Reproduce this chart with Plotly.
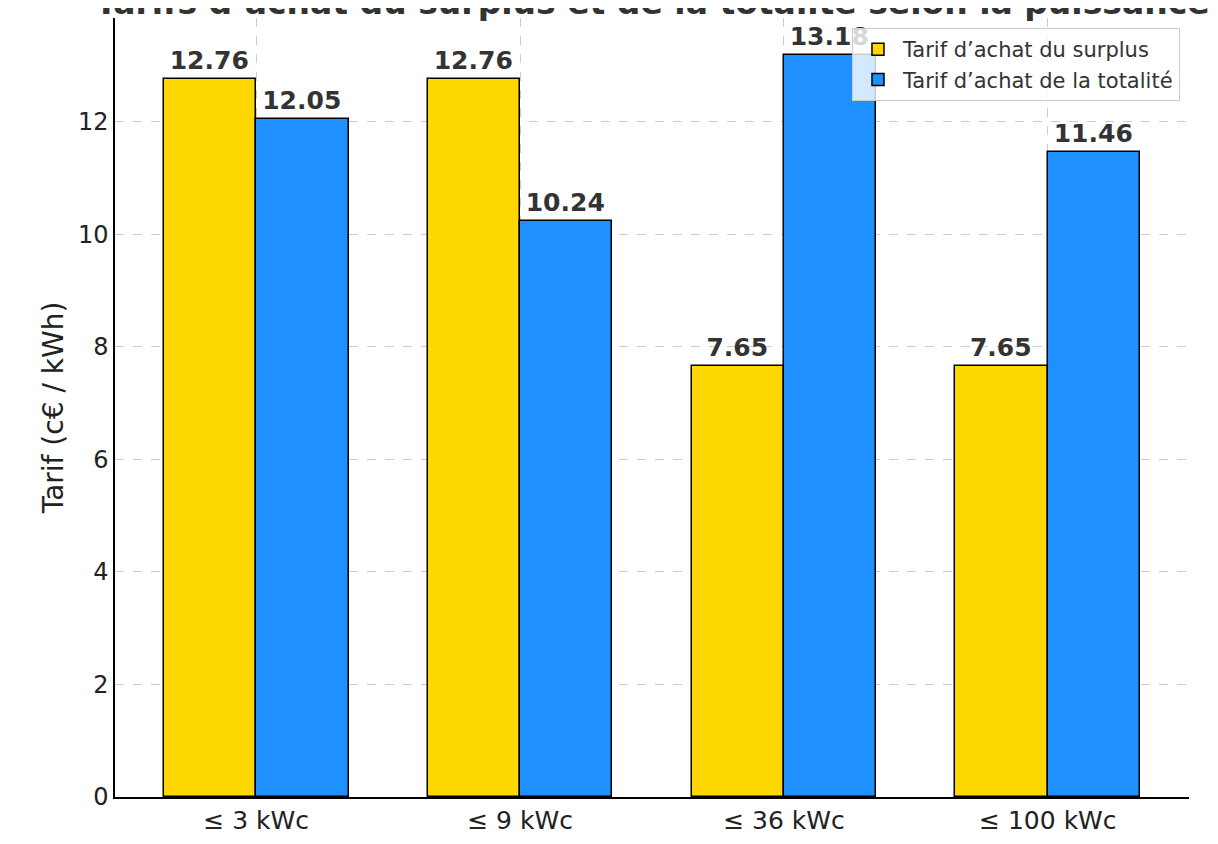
import plotly.graph_objects as go

categories = ["≤ 3 kWc", "≤ 9 kWc", "≤ 36 kWc", "≤ 100 kWc"]
surplus = [12.76, 12.76, 7.65, 7.65]
totalite = [12.05, 10.24, 13.18, 11.46]
bar_width = 0.35

x_pos = list(range(len(categories)))
label_font = dict(family="DejaVu Sans", size=25, color="#333333", weight="bold")

fig = go.Figure()
fig.add_trace(go.Bar(
    x=[p - bar_width / 2 for p in x_pos],
    y=surplus,
    width=bar_width,
    name="Tarif d’achat du surplus",
    marker=dict(color="#FFD700", line=dict(color="black", width=1.5)),
    text=[f"{v:.2f}" for v in surplus],
    textposition="outside",
    constraintext="none",
    cliponaxis=False,
    textfont=label_font,
))
fig.add_trace(go.Bar(
    x=[p + bar_width / 2 for p in x_pos],
    y=totalite,
    width=bar_width,
    name="Tarif d’achat de la totalité",
    marker=dict(color="#1E90FF", line=dict(color="black", width=1.5)),
    text=[f"{v:.2f}" for v in totalite],
    textposition="outside",
    constraintext="none",
    cliponaxis=False,
    textfont=label_font,
))

# title sits partly above the page, as in the original
fig.add_annotation(
    text="<b>Tarifs d’achat du surplus et de la totalité selon la puissance</b>",
    xref="paper", yref="paper", x=0.5, y=1,
    xanchor="center", yanchor="middle", yshift=16,
    showarrow=False,
    font=dict(family="DejaVu Sans", size=33, color="#333333"),
)

fig.update_layout(
    width=1210,
    height=836,
    margin=dict(l=107, r=29, t=10, b=47),
    plot_bgcolor="white",
    paper_bgcolor="white",
    font=dict(family="DejaVu Sans", color="#222222"),
    showlegend=True,
    legend=dict(
        x=0.9916, xanchor="right", y=0.987, yanchor="top",
        bgcolor="rgba(255,255,255,0.8)",
        bordercolor="#cccccc", borderwidth=1,
        font=dict(size=21, color="#333333"),
        itemwidth=40,
    ),
    bargap=0,
)
fig.update_xaxes(
    range=[-0.535, 3.535],
    tickvals=x_pos,
    ticktext=categories,
    tickfont=dict(size=25, color="#222222"),
    showgrid=True, gridcolor="#cccccc", griddash="dash", gridwidth=1,
    showline=True, linecolor="black", linewidth=1.5,
    ticks="", zeroline=False,
)
fig.update_yaxes(
    range=[0, 13.84],
    dtick=2,
    tickfont=dict(size=24, color="#222222"),
    title=dict(text="Tarif (c€ / kWh)", font=dict(size=28, color="#222222"), standoff=6),
    showgrid=True, gridcolor="#cccccc", griddash="dash", gridwidth=1,
    showline=True, linecolor="black", linewidth=1.5,
    ticks="", zeroline=False,
)

fig.write_html("out.html")
